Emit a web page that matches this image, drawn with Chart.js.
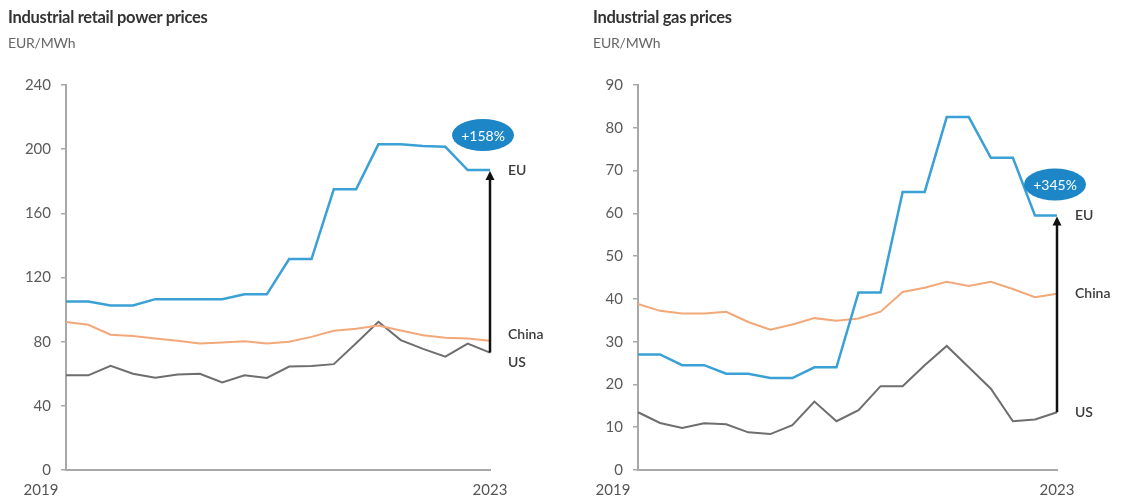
<!DOCTYPE html>
<html lang="en">
<head>
    <meta charset="UTF-8">
    <script src="https://cdn.jsdelivr.net/npm/chart.js@4.4.1/dist/chart.umd.min.js"></script>
    <title>Industrial power and gas prices</title>
    <style>
        html, body {
            margin: 0;
            padding: 0;
            background: #fff;
            font-family: Lato, "Open Sans", sans-serif;
        }

        .panel {
            position: absolute;
            top: 0;
            height: 504px;
        }

        .title {
            position: absolute;
            top: 7px;
            font-size: 16.5px;
            font-weight: bold;
            color: #333;
            letter-spacing: -0.3px;
            white-space: nowrap;
        }

        .unit {
            position: absolute;
            top: 34px;
            font-size: 14px;
            color: #666;
            letter-spacing: -0.2px;
        }
    </style>
</head>
<body>
    <div class="panel" style="left:0;width:565px">
        <canvas id="powerChart" width="565" height="504"></canvas>
        <div class="title" style="left:8px">Industrial retail power prices</div>
        <div class="unit" style="left:8px">EUR/MWh</div>
    </div>
    <div class="panel" style="left:565px;width:566px">
        <canvas id="gasChart" width="566" height="504"></canvas>
        <div class="title" style="left:28px">Industrial gas prices</div>
        <div class="unit" style="left:28px">EUR/MWh</div>
    </div>
    <script>
        // quarterly observations, 2019 Q1 .. 2023 Q4
        const quarters = [
            '2019 Q1', '2019 Q2', '2019 Q3', '2019 Q4',
            '2020 Q1', '2020 Q2', '2020 Q3', '2020 Q4',
            '2021 Q1', '2021 Q2', '2021 Q3', '2021 Q4',
            '2022 Q1', '2022 Q2', '2022 Q3', '2022 Q4',
            '2023 Q1', '2023 Q2', '2023 Q3', '2023 Q4'
        ];
        const xTickLabels = { 0: '2019', 19: '2023' };
        const seriesNames = ['EU', 'China', 'US'];

        // EUR/MWh, industrial retail power
        const powerEU = [105, 105, 102.5, 102.5, 106.5, 106.5, 106.5, 106.5, 109.5, 109.5,
                         131.5, 131.5, 175, 175, 203, 203, 202, 201.5, 187, 187];
        const powerChina = [92.3, 90.5, 84.3, 83.5, 82, 80.5, 78.8, 79.5, 80.3, 78.8,
                            80, 83, 86.8, 88, 90, 87, 84, 82.5, 82, 80.5];
        const powerUS = [59, 59, 65, 60, 57.5, 59.5, 60, 54.6, 59, 57.4,
                         64.5, 64.8, 66, 79, 92.4, 81, 75.5, 70.7, 78.8, 73.2];
        const powerTicks = [0, 40, 80, 120, 160, 200, 240];
        const powerChange = '+158%';

        // EUR/MWh, industrial gas
        const gasEU = [27, 27, 24.5, 24.5, 22.5, 22.5, 21.5, 21.5, 24, 24,
                       41.5, 41.5, 65, 65, 82.5, 82.5, 73, 73, 59.5, 59.5];
        const gasChina = [38.8, 37.2, 36.6, 36.6, 37, 34.6, 32.8, 34, 35.5, 34.9,
                          35.4, 37, 41.6, 42.6, 44, 43, 44, 42.3, 40.4, 41.2];
        const gasUS = [13.5, 11, 9.8, 10.9, 10.7, 8.8, 8.4, 10.5, 16, 11.4,
                       14, 19.6, 19.6, 24.5, 29, 24, 19, 11.4, 11.8, 13.5];
        const gasTicks = [0, 10, 20, 30, 40, 50, 60, 70, 80, 90];
        const gasChange = '+345%';

        const colors = { EU: '#3aa0d6', China: '#f2a878', US: '#6e6e6e' };
        const axisColor = '#a8a8a8';
        const font = 'Lato, "Open Sans", sans-serif';

        // end labels, the EU -> US arrow, the % badge and the year labels
        const annotations = {
            id: 'annotations',
            afterDatasetsDraw(chart, args, o) {
                const { ctx } = chart;
                const x = chart.scales.x;
                const y = chart.scales.y;
                const last = quarters.length - 1;
                const px = x.getPixelForValue(last);
                const data = chart.data.datasets.map(d => d.data[last]);
                const yEU = y.getPixelForValue(data[0]);
                const yUS = y.getPixelForValue(data[2]);

                ctx.save();
                // arrow
                ctx.strokeStyle = '#111';
                ctx.fillStyle = '#111';
                ctx.lineWidth = 2.5;
                ctx.beginPath();
                ctx.moveTo(px, yUS);
                ctx.lineTo(px, yEU + 8);
                ctx.stroke();
                ctx.beginPath();
                ctx.moveTo(px, yEU + 1);
                ctx.lineTo(px - 4.5, yEU + 10);
                ctx.lineTo(px + 4.5, yEU + 10);
                ctx.closePath();
                ctx.fill();

                // series names at the right end
                ctx.font = '600 14px ' + font;
                ctx.fillStyle = '#3a3a3a';
                ctx.textBaseline = 'middle';
                ctx.textAlign = 'left';
                seriesNames.forEach((name, i) => {
                    ctx.fillText(name, px + 18, y.getPixelForValue(data[i]) + o.labelDy[i]);
                });

                // badge
                const bx = px + o.badgeDx, by = yEU + o.badgeDy;
                ctx.fillStyle = '#1c86c6';
                ctx.beginPath();
                ctx.ellipse(bx, by, 31, 16, 0, 0, Math.PI * 2);
                ctx.fill();
                ctx.fillStyle = '#fff';
                ctx.font = '14px ' + font;
                ctx.textAlign = 'center';
                ctx.fillText(o.badge, bx, by + 1);

                // year labels under the x axis
                ctx.fillStyle = '#555';
                ctx.font = '15px ' + font;
                ctx.textBaseline = 'top';
                Object.keys(xTickLabels).forEach(k => {
                    const off = Number(k) === 0 ? -25 : 0;
                    ctx.fillText(xTickLabels[k], x.getPixelForValue(Number(k)) + off, x.top + 13);
                });
                ctx.restore();
            }
        };

        function createChart(id, series, ticks, yAxisWidth, padRight, opts) {
            const ctx = document.getElementById(id).getContext('2d');
            return new Chart(ctx, {
                type: 'line',
                data: {
                    labels: quarters,
                    datasets: seriesNames.map((name, i) => ({
                        label: name,
                        data: series[i],
                        borderColor: colors[name],
                        borderWidth: name === 'EU' ? 2.5 : 2,
                        pointRadius: 0,
                        tension: 0,
                        fill: false
                    }))
                },
                options: {
                    responsive: false,
                    animation: false,
                    layout: { padding: { top: 85, right: padRight, bottom: 0, left: 0 } },
                    scales: {
                        x: {
                            type: 'category',
                            offset: false,
                            grid: { display: false },
                            border: { display: true, color: axisColor, width: 2 },
                            ticks: { display: false },
                            afterFit: s => { s.height = 34; }
                        },
                        y: {
                            min: ticks[0],
                            max: ticks[ticks.length - 1],
                            afterBuildTicks: s => { s.ticks = ticks.map(v => ({ value: v })); },
                            grid: { drawOnChartArea: false, drawTicks: true, tickLength: 5, color: axisColor, lineWidth: 1.5 },
                            border: { display: true, color: axisColor, width: 2 },
                            ticks: { color: '#5a5a5a', font: { family: font, size: 15 }, padding: 10 },
                            afterFit: s => { s.width = yAxisWidth; }
                        }
                    },
                    plugins: {
                        legend: { display: false },
                        tooltip: { enabled: false },
                        annotations: opts
                    }
                },
                plugins: [annotations]
            });
        }

        createChart('powerChart', [powerEU, powerChina, powerUS], powerTicks, 66, 75,
            { badge: powerChange, badgeDx: -7, badgeDy: -35, labelDy: [0, -6, 10] });
        createChart('gasChart', [gasEU, gasChina, gasUS], gasTicks, 73, 74,
            { badge: gasChange, badgeDx: -2, badgeDy: -31, labelDy: [0, 0, 0] });
    </script>
</body>
</html>
